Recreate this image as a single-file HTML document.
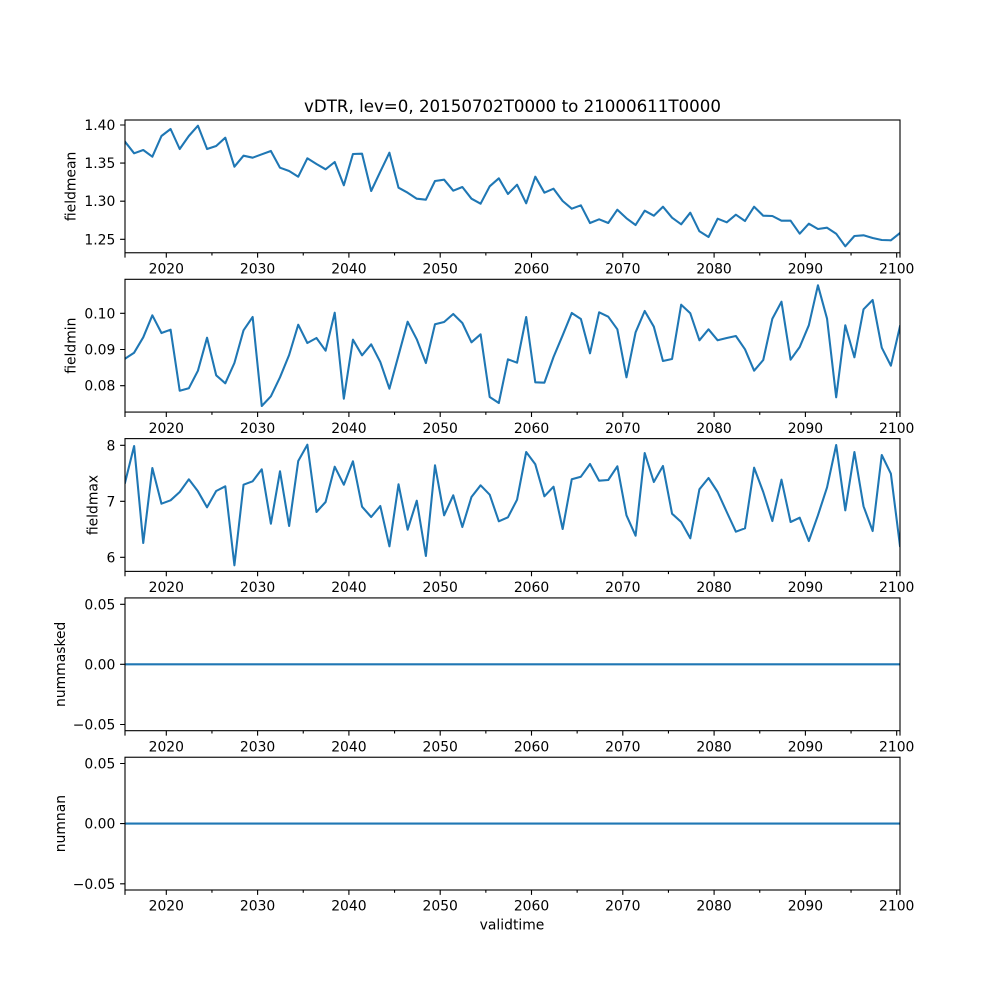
<!DOCTYPE html>
<html><head><meta charset="utf-8"><style>
html,body{margin:0;padding:0;background:#fff;}
svg{display:block;}
text{font-family:"DejaVu Sans","Liberation Sans",sans-serif;fill:#000;}
.t{font-size:13.9px;}
.xl{text-anchor:middle;}
.yl{text-anchor:end;}
.ln{fill:none;stroke:#1f77b4;stroke-width:2.08;stroke-linejoin:round;stroke-linecap:square;}
.fr{fill:none;stroke:#000;stroke-width:1.11;}
.tk{fill:none;stroke:#000;stroke-width:1.11;}
</style></head><body>
<svg width="1000" height="1000" viewBox="0 0 1000 1000" xmlns="http://www.w3.org/2000/svg">
<rect width="1000" height="1000" fill="#fff"/>
<defs>
<clipPath id="c1"><rect x="125" y="120" width="775" height="132.76"/></clipPath>
<clipPath id="c2"><rect x="125" y="279.31" width="775" height="132.76"/></clipPath>
<clipPath id="c3"><rect x="125" y="438.62" width="775" height="132.76"/></clipPath>
<clipPath id="c4"><rect x="125" y="597.93" width="775" height="132.76"/></clipPath>
<clipPath id="c5"><rect x="125" y="757.24" width="775" height="132.76"/></clipPath>
</defs>

<text x="512.5" y="112" style="font-size:16.67px" text-anchor="middle">vDTR, lev=0, 20150702T0000 to 21000611T0000</text>

<!-- Axes 1 -->
<polyline class="ln" clip-path="url(#c1)" points="125,141.7 134.12,153.3 143.24,150 152.35,156.7 161.47,136 170.59,129 179.71,149 188.82,136 197.94,125.7 207.06,149 216.18,146 225.29,137.7 234.41,166.7 243.53,155.7 252.65,157.7 261.76,154.3 270.88,151 280,167.7 289.12,171 298.24,176.7 307.35,158.3 316.47,164 325.59,169.3 334.71,162 343.82,185.3 352.94,154 362.06,153.7 371.18,191 380.29,171.7 389.41,152.7 398.53,187.7 407.65,192.7 416.76,198.7 425.88,199.7 435,181 444.12,179.7 453.24,190.7 462.35,187 471.47,198.7 480.59,203.7 489.71,186.3 498.82,178.3 507.94,194 517.06,184.7 526.18,203.3 535.29,176.7 544.41,192.7 553.53,188.7 562.65,201 571.76,208.7 580.88,205.3 590,223 599.12,219.3 608.24,223 617.35,209.7 626.47,218.3 635.59,225 644.71,210.7 653.82,215.7 662.94,206.7 672.06,217.7 681.18,224.3 690.29,212.7 699.41,231.3 708.53,237 717.65,218.7 726.76,222.3 735.88,214.7 745,221 754.12,206.7 763.24,215.7 772.35,216 781.47,220.7 790.59,220.7 799.71,233.7 808.82,223.7 817.94,229 827.06,227.7 836.18,233.7 845.29,246.3 854.41,236 863.53,235.3 872.65,238 881.76,240 890.88,240.3 900,233"/>
<rect class="fr" x="125" y="120" width="775" height="132.76"/>
<path class="tk" d="M125 125h-4.9M125 163.1h-4.9M125 201.2h-4.9M125 239.3h-4.9"/>
<text class="t yl" x="115.3" y="130">1.40</text>
<text class="t yl" x="115.3" y="168.1">1.35</text>
<text class="t yl" x="115.3" y="206.2">1.30</text>
<text class="t yl" x="115.3" y="244.3">1.25</text>
<text class="t" transform="translate(75.3,186.4) rotate(-90)" text-anchor="middle">fieldmean</text>
<g transform="translate(0,252.76)">
<path class="tk" d="M125 0v4.9M166.3 0v4.9M257.6 0v4.9M348.9 0v4.9M440.2 0v4.9M531.5 0v4.9M622.8 0v4.9M714.1 0v4.9M805.4 0v4.9M896.7 0v4.9M900 0v4.9"/>
<path class="tk" d="M211.95 0v2.8M303.25 0v2.8M394.55 0v2.8M485.85 0v2.8M577.15 0v2.8M668.45 0v2.8M759.75 0v2.8M851.05 0v2.8"/>
<text class="t xl" x="166.3" y="20.7">2020</text><text class="t xl" x="257.6" y="20.7">2030</text><text class="t xl" x="348.9" y="20.7">2040</text><text class="t xl" x="440.2" y="20.7">2050</text><text class="t xl" x="531.5" y="20.7">2060</text><text class="t xl" x="622.8" y="20.7">2070</text><text class="t xl" x="714.1" y="20.7">2080</text><text class="t xl" x="805.4" y="20.7">2090</text><text class="t xl" x="896.7" y="20.7">2100</text>
</g>

<!-- Axes 2 -->
<polyline class="ln" clip-path="url(#c2)" points="125,358.7 134.12,352.7 143.24,337.3 152.35,315.3 161.47,333 170.59,329.7 179.71,390.7 188.82,388.3 197.94,370.7 207.06,337.7 216.18,375.3 225.29,383.3 234.41,363 243.53,330.3 252.65,317 261.76,406 270.88,396.3 280,377.3 289.12,355 298.24,324.7 307.35,343 316.47,338 325.59,350.7 334.71,312.7 343.82,398.7 352.94,339.7 362.06,355.3 371.18,344.3 380.29,362 389.41,388.7 398.53,355.3 407.65,321.7 416.76,339.3 425.88,363 435,324.3 444.12,322 453.24,314 462.35,323 471.47,342.3 480.59,334.3 489.71,397 498.82,403 507.94,359.3 517.06,362.7 526.18,317 535.29,382.3 544.41,382.7 553.53,357 562.65,335.3 571.76,313 580.88,319 590,353.3 599.12,312.3 608.24,316.7 617.35,329.3 626.47,377.3 635.59,332.3 644.71,311 653.82,326.7 662.94,361 672.06,359 681.18,304.7 690.29,313.3 699.41,340.3 708.53,329.3 717.65,340.3 726.76,338 735.88,336 745,349.3 754.12,370.7 763.24,360 772.35,318.7 781.47,301.7 790.59,359.7 799.71,347 808.82,325.3 817.94,285.3 827.06,318.7 836.18,397.3 845.29,325.3 854.41,357.3 863.53,309.3 872.65,300 881.76,347.7 890.88,365.7 900,326.3"/>
<rect class="fr" x="125" y="279.31" width="775" height="132.76"/>
<path class="tk" d="M125 313.3h-4.9M125 349.5h-4.9M125 385.7h-4.9"/>
<text class="t yl" x="115.3" y="318.3">0.10</text>
<text class="t yl" x="115.3" y="354.5">0.09</text>
<text class="t yl" x="115.3" y="390.7">0.08</text>
<text class="t" transform="translate(75.3,345.7) rotate(-90)" text-anchor="middle">fieldmin</text>
<g transform="translate(0,412.07)">
<path class="tk" d="M125 0v4.9M166.3 0v4.9M257.6 0v4.9M348.9 0v4.9M440.2 0v4.9M531.5 0v4.9M622.8 0v4.9M714.1 0v4.9M805.4 0v4.9M896.7 0v4.9M900 0v4.9"/>
<path class="tk" d="M211.95 0v2.8M303.25 0v2.8M394.55 0v2.8M485.85 0v2.8M577.15 0v2.8M668.45 0v2.8M759.75 0v2.8M851.05 0v2.8"/>
<text class="t xl" x="166.3" y="20.7">2020</text><text class="t xl" x="257.6" y="20.7">2030</text><text class="t xl" x="348.9" y="20.7">2040</text><text class="t xl" x="440.2" y="20.7">2050</text><text class="t xl" x="531.5" y="20.7">2060</text><text class="t xl" x="622.8" y="20.7">2070</text><text class="t xl" x="714.1" y="20.7">2080</text><text class="t xl" x="805.4" y="20.7">2090</text><text class="t xl" x="896.7" y="20.7">2100</text>
</g>

<!-- Axes 3 -->
<polyline class="ln" clip-path="url(#c3)" points="125,482.7 134.12,446 143.24,543 152.35,468 161.47,503.7 170.59,500.3 179.71,492 188.82,479.3 197.94,491.3 207.06,507.3 216.18,491 225.29,486.3 234.41,565.3 243.53,484.7 252.65,481.3 261.76,469.3 270.88,523.7 280,471.3 289.12,526 298.24,461 307.35,444.7 316.47,512 325.59,502 334.71,466.7 343.82,484.7 352.94,461.3 362.06,506.7 371.18,517 380.29,506 389.41,546.3 398.53,484.3 407.65,529.7 416.76,500.7 425.88,556 435,465.3 444.12,515.3 453.24,495.3 462.35,527 471.47,497 480.59,485.3 489.71,494.7 498.82,521.3 507.94,517.3 517.06,499.7 526.18,452 535.29,464.3 544.41,496.3 553.53,486.7 562.65,529 571.76,479.3 580.88,476.7 590,464 599.12,480.7 608.24,480 617.35,466.3 626.47,515.3 635.59,535.7 644.71,453 653.82,482 662.94,466 672.06,513.7 681.18,522 690.29,538.3 699.41,489.3 708.53,478 717.65,492 726.76,512 735.88,531.7 745,528.3 754.12,467.7 763.24,492 772.35,521 781.47,479.7 790.59,522 799.71,517.7 808.82,541 817.94,515.3 827.06,487.3 836.18,445 845.29,510.3 854.41,452 863.53,506.3 872.65,531 881.76,455 890.88,473.7 900,546"/>
<rect class="fr" x="125" y="438.62" width="775" height="132.76"/>
<path class="tk" d="M125 445.3h-4.9M125 501.3h-4.9M125 557.3h-4.9"/>
<text class="t yl" x="115.3" y="450.3">8</text>
<text class="t yl" x="115.3" y="506.3">7</text>
<text class="t yl" x="115.3" y="562.3">6</text>
<text class="t" transform="translate(97.3,505) rotate(-90)" text-anchor="middle">fieldmax</text>
<g transform="translate(0,571.38)">
<path class="tk" d="M125 0v4.9M166.3 0v4.9M257.6 0v4.9M348.9 0v4.9M440.2 0v4.9M531.5 0v4.9M622.8 0v4.9M714.1 0v4.9M805.4 0v4.9M896.7 0v4.9M900 0v4.9"/>
<path class="tk" d="M211.95 0v2.8M303.25 0v2.8M394.55 0v2.8M485.85 0v2.8M577.15 0v2.8M668.45 0v2.8M759.75 0v2.8M851.05 0v2.8"/>
<text class="t xl" x="166.3" y="20.7">2020</text><text class="t xl" x="257.6" y="20.7">2030</text><text class="t xl" x="348.9" y="20.7">2040</text><text class="t xl" x="440.2" y="20.7">2050</text><text class="t xl" x="531.5" y="20.7">2060</text><text class="t xl" x="622.8" y="20.7">2070</text><text class="t xl" x="714.1" y="20.7">2080</text><text class="t xl" x="805.4" y="20.7">2090</text><text class="t xl" x="896.7" y="20.7">2100</text>
</g>

<!-- Axes 4 -->
<line class="ln" clip-path="url(#c4)" x1="125" y1="664.3" x2="900" y2="664.3" style="stroke-linecap:butt"/>
<rect class="fr" x="125" y="597.93" width="775" height="132.76"/>
<path class="tk" d="M125 604.3h-4.9M125 664.3h-4.9M125 724.5h-4.9"/>
<text class="t yl" x="115.3" y="609.3">0.05</text>
<text class="t yl" x="115.3" y="669.3">0.00</text>
<text class="t yl" x="115.3" y="729.5">−0.05</text>
<text class="t" transform="translate(65,664.3) rotate(-90)" text-anchor="middle">nummasked</text>
<g transform="translate(0,730.69)">
<path class="tk" d="M125 0v4.9M166.3 0v4.9M257.6 0v4.9M348.9 0v4.9M440.2 0v4.9M531.5 0v4.9M622.8 0v4.9M714.1 0v4.9M805.4 0v4.9M896.7 0v4.9M900 0v4.9"/>
<path class="tk" d="M211.95 0v2.8M303.25 0v2.8M394.55 0v2.8M485.85 0v2.8M577.15 0v2.8M668.45 0v2.8M759.75 0v2.8M851.05 0v2.8"/>
<text class="t xl" x="166.3" y="20.7">2020</text><text class="t xl" x="257.6" y="20.7">2030</text><text class="t xl" x="348.9" y="20.7">2040</text><text class="t xl" x="440.2" y="20.7">2050</text><text class="t xl" x="531.5" y="20.7">2060</text><text class="t xl" x="622.8" y="20.7">2070</text><text class="t xl" x="714.1" y="20.7">2080</text><text class="t xl" x="805.4" y="20.7">2090</text><text class="t xl" x="896.7" y="20.7">2100</text>
</g>

<!-- Axes 5 -->
<line class="ln" clip-path="url(#c5)" x1="125" y1="823.6" x2="900" y2="823.6" style="stroke-linecap:butt"/>
<rect class="fr" x="125" y="757.24" width="775" height="132.76"/>
<path class="tk" d="M125 763.5h-4.9M125 823.6h-4.9M125 883.8h-4.9"/>
<text class="t yl" x="115.3" y="768.5">0.05</text>
<text class="t yl" x="115.3" y="828.6">0.00</text>
<text class="t yl" x="115.3" y="888.8">−0.05</text>
<text class="t" transform="translate(65,823.6) rotate(-90)" text-anchor="middle">numnan</text>
<g transform="translate(0,890)">
<path class="tk" d="M125 0v4.9M166.3 0v4.9M257.6 0v4.9M348.9 0v4.9M440.2 0v4.9M531.5 0v4.9M622.8 0v4.9M714.1 0v4.9M805.4 0v4.9M896.7 0v4.9M900 0v4.9"/>
<path class="tk" d="M211.95 0v2.8M303.25 0v2.8M394.55 0v2.8M485.85 0v2.8M577.15 0v2.8M668.45 0v2.8M759.75 0v2.8M851.05 0v2.8"/>
<text class="t xl" x="166.3" y="20.7">2020</text><text class="t xl" x="257.6" y="20.7">2030</text><text class="t xl" x="348.9" y="20.7">2040</text><text class="t xl" x="440.2" y="20.7">2050</text><text class="t xl" x="531.5" y="20.7">2060</text><text class="t xl" x="622.8" y="20.7">2070</text><text class="t xl" x="714.1" y="20.7">2080</text><text class="t xl" x="805.4" y="20.7">2090</text><text class="t xl" x="896.7" y="20.7">2100</text>
</g>
<text class="t" x="512" y="929.5" text-anchor="middle">validtime</text>
</svg>
</body></html>
